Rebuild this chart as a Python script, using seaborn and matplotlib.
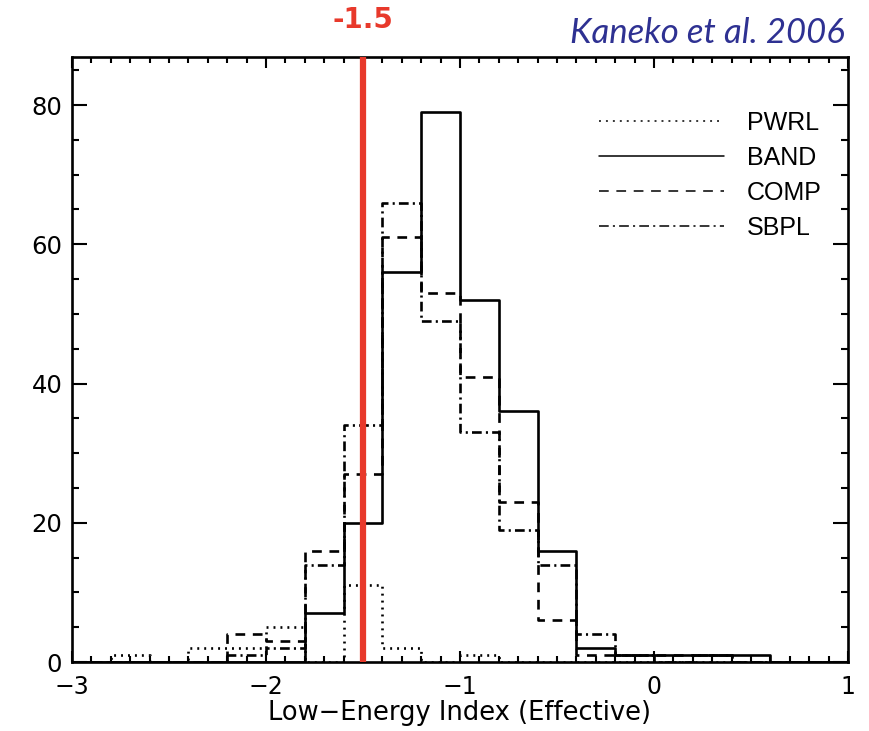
import numpy as np
import pandas as pd
import matplotlib
matplotlib.use("Agg")
import matplotlib.pyplot as plt
from matplotlib.ticker import MultipleLocator
import seaborn as sns

# ---- data (counts per 0.2-wide bin) ----
bin_left = [-3.0, -2.8, -2.6, -2.4, -2.2, -2.0, -1.8, -1.6, -1.4, -1.2,
            -1.0, -0.8, -0.6, -0.4, -0.2, 0.0, 0.2, 0.4, 0.6, 0.8]
pwrl = [0, 1, 0, 2, 2, 5, 0, 11, 2, 0, 1, 0, 0, 0, 0, 0, 0, 0, 0, 0]
band = [0, 0, 0, 0, 0, 0, 7, 20, 56, 79, 52, 36, 16, 2, 1, 1, 1, 1, 0, 0]
comp = [0, 0, 0, 0, 4, 3, 16, 27, 61, 53, 41, 23, 6, 1, 1, 1, 1, 0, 0, 0]
sbpl = [0, 0, 0, 0, 1, 2, 14, 34, 66, 49, 33, 19, 14, 4, 1, 0, 1, 0, 0, 0]
series_names = ["PWRL", "BAND", "COMP", "SBPL"]
threshold = -1.5
threshold_label = "-1.5"
citation = "Kaneko et al. 2006"
x_label = "Low\u2212Energy Index (Effective)"

BIN_WIDTH = 0.2
BIN_RANGE = (-3.0, 1.0)

# ---- styling ----
sns.set_style("ticks")
plt.rcParams["font.family"] = ["DejaVu Sans"]
plt.rcParams["lines.scale_dashes"] = False
plt.rcParams["text.color"] = "black"
plt.rcParams["axes.labelcolor"] = "black"

styles = {
    "PWRL": (0, (1.4, 3.6)),
    "BAND": "-",
    "COMP": (0, (7.0, 5.5)),
    "SBPL": (0, (7.0, 3.0, 1.5, 3.0)),
}

fig = plt.figure(figsize=(8.69, 7.31), dpi=100)
ax = fig.add_axes([72 / 869, 1 - 662 / 731, 776 / 869, 605 / 731])

values = {"PWRL": pwrl, "BAND": band, "COMP": comp, "SBPL": sbpl}
for name in series_names:
    df = pd.DataFrame({
        "index": np.array(bin_left) + BIN_WIDTH / 2,
        "count": values[name],
    })
    sns.histplot(data=df, x="index", weights="count", binwidth=BIN_WIDTH,
                 binrange=BIN_RANGE, element="step", fill=False,
                 color="black", linewidth=1.9, linestyle=styles[name],
                 label=name, ax=ax)

ax.axvline(threshold, color="#e8392b", linewidth=4.5, zorder=5)

ax.set_xlim(-3, 1)
ax.set_ylim(0, 86.9)
ax.set_ylabel("")
ax.set_xlabel(x_label, fontsize=18.5, labelpad=1, color="black")

ax.xaxis.set_major_locator(MultipleLocator(1))
ax.xaxis.set_minor_locator(MultipleLocator(0.1))
ax.yaxis.set_major_locator(MultipleLocator(20))
ax.yaxis.set_minor_locator(MultipleLocator(5))
ax.tick_params(axis="both", which="both", direction="in", top=True,
               right=True, width=1.5, colors="black", labelcolor="black")
ax.tick_params(axis="x", which="major", length=8, labelsize=17, pad=9)
ax.tick_params(axis="x", which="minor", length=4)
ax.tick_params(axis="y", which="major", length=11, labelsize=17.5, pad=7)
ax.tick_params(axis="y", which="minor", length=5)
for sp in ax.spines.values():
    sp.set_linewidth(1.9)
    sp.set_color("black")
    sp.set_visible(True)

leg = ax.legend(loc="upper right", bbox_to_anchor=(0.966, 0.911),
                frameon=False, borderaxespad=0, borderpad=0,
                handlelength=5.0, handletextpad=0.9, labelspacing=0.44,
                prop={"family": "Liberation Sans", "size": 18})
for ln in leg.get_lines():
    ln.set_linewidth(1.1)
for t in leg.get_texts():
    t.set_color("black")

fig.text(363 / 869, 1 - 20 / 731, threshold_label, color="#e8392b",
         fontsize=20, fontweight="bold", ha="center", va="center")
fig.text(845 / 869, 1 - 33 / 731, citation, color="#2e3192",
         fontsize=25, style="italic", family="Lato", ha="right",
         va="center")

fig.savefig("out.png", dpi=100)
